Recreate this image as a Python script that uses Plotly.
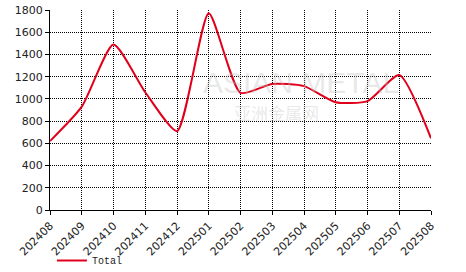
import plotly.graph_objects as go

months = ["202408", "202409", "202410", "202411", "202412", "202501", "202502",
          "202503", "202504", "202505", "202506", "202507", "202508"]
total = [620, 930, 1490, 1060, 710, 1770, 1055, 1135, 1115, 970, 980, 1215, 645]
y_ticks = [0, 200, 400, 600, 800, 1000, 1200, 1400, 1600, 1800]

fig = go.Figure()
fig.add_trace(go.Scatter(
    x=months, y=total, name="Total", mode="lines",
    line=dict(color="#E0001B", width=2, shape="spline", smoothing=0.6),
))

# watermark
fig.add_annotation(xref="paper", yref="paper", x=0.66, y=0.64, text="ASIAN METAL",
                   showarrow=False, font=dict(family="Liberation Sans", size=30, color="rgba(190,190,190,0.35)"))
fig.add_annotation(xref="paper", yref="paper", x=0.71, y=0.49, text="亚洲金属网",
                   showarrow=False, font=dict(family="Noto Sans CJK SC", size=17, color="rgba(190,190,190,0.35)"))

fig.update_layout(
    width=466, height=272,
    margin=dict(l=50, r=35, t=10, b=62, autoexpand=False),
    paper_bgcolor="white", plot_bgcolor="white",
    font=dict(family="DejaVu Sans", size=11, color="#222"),
    showlegend=True,
    legend=dict(orientation="h", x=0.005, y=-0.18, xanchor="left", yanchor="top",
                itemwidth=30, font=dict(family="Liberation Mono", size=10, color="#222"),
                bgcolor="rgba(0,0,0,0)"),
)
fig.update_xaxes(
    type="category", range=[0, 12], tickangle=-45, automargin=False,
    showline=True, linecolor="black", linewidth=1, mirror=False,
    ticks="outside", ticklen=4, tickcolor="black",
    showgrid=True, gridcolor="black", griddash="1px,1px", gridwidth=1,
    tickfont=dict(family="DejaVu Sans", size=11, color="#222"),
)
fig.update_yaxes(
    range=[0, 1800], tickvals=y_ticks, automargin=False,
    showline=True, linecolor="black", linewidth=1,
    ticks="outside", ticklen=4, tickcolor="black",
    showgrid=True, gridcolor="black", griddash="1px,1px", gridwidth=1,
    zeroline=False,
    tickfont=dict(family="DejaVu Sans", size=11, color="#222"),
)
fig.write_html("out.html")
